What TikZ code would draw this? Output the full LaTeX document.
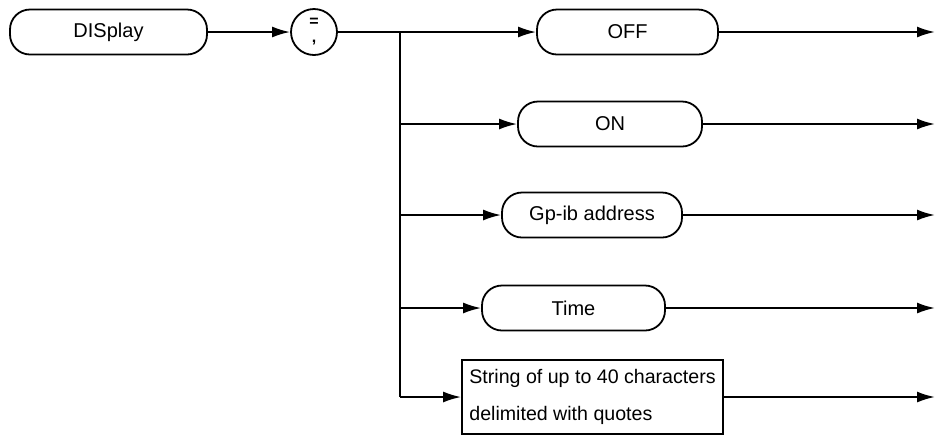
\documentclass[tikz,border=0pt]{standalone}
\usepackage{fontspec}
\setmainfont{Liberation Sans}
\usetikzlibrary{arrows.meta}

\tikzset{
  pill/.style={draw, line width=0.9pt, rounded corners=10pt, minimum height=22.5pt,
    inner sep=0pt, font=\fontsize{10}{11}\selectfont},
  textbox/.style={draw, line width=0.9pt, minimum height=37pt, inner sep=0pt,
    align=left, font=\fontsize{9.8}{18.5}\selectfont},
  sepcircle/.style={draw, circle, line width=0.9pt, minimum size=23pt, inner sep=0pt,
    align=center, font=\bfseries\fontsize{8}{8}\selectfont},
  flow/.style={-{Latex[length=9pt,width=5.5pt]}},
}

\begin{document}
\begin{tikzpicture}[x=0.5pt, y=-0.5pt, line width=1pt]
  \useasboundingbox (0,0) rectangle (936,435);
  % command word and separator
  \node[pill, minimum width=98.5pt] (display) at (108.5,32) {DISplay};
  \node[sepcircle] (sep) at (314,32) {=\\,};
  % choices
  \node[pill, minimum width=90.5pt] (off) at (627.5,32) {OFF};
  \node[pill, minimum width=92pt] (on) at (610,124) {ON};
  \node[pill, minimum width=90pt] (gpib) at (592,215) {Gp-ib address};
  \node[pill, minimum width=91.5pt] (time) at (573.5,308) {Time};
  \node[textbox, minimum width=130.5pt] (str) at (592.5,397)
    {String of up to 40 characters\\delimited with quotes};
  % branch line
  \coordinate (top) at (400,32);
  \coordinate (bot) at (400,397);
  \draw[flow] (display) -- (sep);
  \draw[flow] (sep) -- (off);
  \draw (top) -- (bot);
  \foreach \n in {on,gpib,time,str}
    \draw[flow] (\n -| top) -- (\n);
  % exits
  \foreach \n/\y in {off/32,on/124,gpib/215,time/308,str/397} {
    \coordinate (\n-end) at (935,\y);
    \draw[flow] (\n) -- (\n-end);
  }
\end{tikzpicture}
\end{document}
